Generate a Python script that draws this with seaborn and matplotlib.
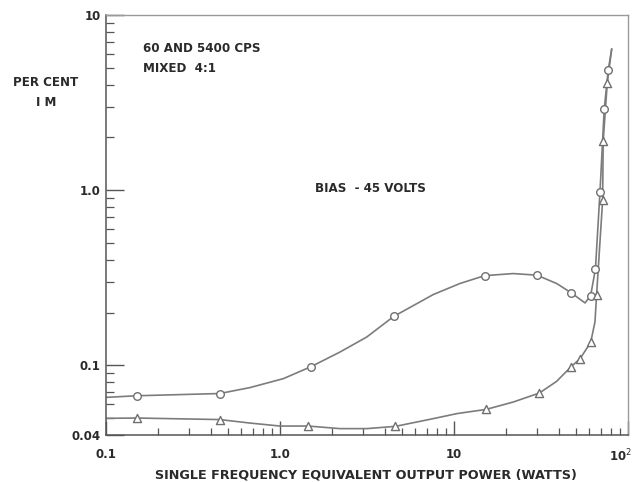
import matplotlib
matplotlib.use("Agg")
import matplotlib.pyplot as plt
import matplotlib.ticker as mticker
import matplotlib.transforms as mtransforms
import numpy as np
import pandas as pd
import seaborn as sns

# ---- data ----
# open-circle series (markers)
circ_x = [0.15, 0.45, 1.5, 4.5, 15, 30, 47, 61, 65, 69, 73, 77]
circ_y = [0.067, 0.069, 0.098, 0.19, 0.325, 0.327, 0.26, 0.25, 0.355, 0.97, 2.9, 4.85]
# extra points (no markers)
circ_trace_x = [0.1, 0.672, 1.045, 2.21, 3.15, 7.6, 10.8, 21.9, 38.9, 56.6, 80.6]
circ_trace_y = [0.0656, 0.0746, 0.0839, 0.119, 0.145, 0.2535, 0.293, 0.334, 0.293, 0.227, 6.4]

# triangle series (markers)
tri_x = [0.15, 0.45, 1.45, 4.6, 15.3, 31, 47, 53, 61, 66, 71.5, 72, 76]
tri_y = [0.050, 0.049, 0.045, 0.0448, 0.056, 0.0695, 0.098, 0.109, 0.135, 0.253, 0.88, 1.9, 4.1]
# extra points (no markers)
tri_trace_x = [0.1, 0.672, 1.0, 2.21, 3.15, 7.6, 10.4, 21.9, 38.9, 64.6, 80.6]
tri_trace_y = [0.0498, 0.0468, 0.045, 0.0435, 0.0435, 0.0496, 0.053, 0.0617, 0.081, 0.177, 6.4]

x_ticks = [0.1, 1, 10, 100]
x_tick_labels = ["0.1", "1.0", "10", "10$^2$"]
y_ticks = [0.04, 0.1, 1, 10]
y_tick_labels = ["0.04", "0.1", "1.0", "10"]

# ---- figure ----
sns.set_theme(style="white")
plt.rcParams["font.family"] = ["DejaVu Sans"]
W, H = 640, 482
fig = plt.figure(figsize=(W / 100, H / 100), dpi=100)
ax = fig.add_axes([106 / W, 1 - 435 / H, (628 - 106) / W, (435 - 15) / H])
ax.set_xscale("log")
ax.set_yscale("log")

def line_df(mx, my, tx, ty):
    pts = sorted(zip(list(mx) + list(tx), list(my) + list(ty)), key=lambda p: (p[0], p[1]))
    return pd.DataFrame({"x": [p[0] for p in pts], "y": [p[1] for p in pts]})

line_col = "#7c7c7c"
c_line = line_df(circ_x, circ_y, circ_trace_x, circ_trace_y)
t_line = line_df(tri_x, tri_y, tri_trace_x, tri_trace_y)
sns.lineplot(data=c_line, x="x", y="y", sort=False, estimator=None, ax=ax,
             color=line_col, linewidth=1.2)
sns.lineplot(data=t_line, x="x", y="y", sort=False, estimator=None, ax=ax,
             color=line_col, linewidth=1.2)

sns.scatterplot(x=circ_x, y=circ_y, ax=ax, marker="o", s=30,
                facecolor="white", edgecolor="#707070", linewidth=1.0, zorder=5)
sns.scatterplot(x=tri_x, y=tri_y, ax=ax, marker="^", s=34,
                facecolor="white", edgecolor="#707070", linewidth=1.0, zorder=5)

ax.set_xlim(0.1, 100)
ax.set_ylim(0.04, 10)
ax.set_xlabel("")
ax.set_ylabel("")

ax.xaxis.set_major_locator(mticker.FixedLocator(x_ticks))
ax.xaxis.set_major_formatter(mticker.FixedFormatter(x_tick_labels))
ax.yaxis.set_major_locator(mticker.FixedLocator(y_ticks))
ax.yaxis.set_major_formatter(mticker.FixedFormatter(y_tick_labels))
ax.xaxis.set_minor_locator(mticker.LogLocator(base=10, subs=np.arange(2, 10)))
ax.yaxis.set_minor_locator(mticker.LogLocator(base=10, subs=np.arange(2, 10)))
ax.xaxis.set_minor_formatter(mticker.NullFormatter())
ax.yaxis.set_minor_formatter(mticker.NullFormatter())

txt_col = "#2a2a2a"
ax.tick_params(axis="both", which="both", direction="in", colors="#555555",
               labelcolor=txt_col, bottom=True, left=True, top=False, right=False)
ax.tick_params(axis="x", which="major", length=10, width=1.0, pad=9, labelsize=8.5)
ax.tick_params(axis="x", which="minor", length=5, width=0.9)
ax.tick_params(axis="y", which="major", length=13, width=1.0, pad=4, labelsize=8.5)
ax.tick_params(axis="y", which="minor", length=6, width=0.9)
fig.canvas.draw()
for lab in ax.get_xticklabels() + ax.get_yticklabels():
    lab.set_fontweight("bold")
last = ax.get_xticklabels()[-1]
last.set_transform(last.get_transform() +
                   mtransforms.ScaledTranslation(-8 / 100, 0, fig.dpi_scale_trans))

for side in ["left", "bottom"]:
    ax.spines[side].set_color("#555555")
    ax.spines[side].set_linewidth(1.1)
for side in ["top", "right"]:
    ax.spines[side].set_color("#9a9a9a")
    ax.spines[side].set_linewidth(1.0)

fs = 8.6
fig.text(143 / W, 1 - 48 / H, "60 AND 5400 CPS", ha="left", va="center",
         color=txt_col, fontweight="bold", fontsize=fs)
fig.text(143 / W, 1 - 68 / H, "MIXED  4:1", ha="left", va="center",
         color=txt_col, fontweight="bold", fontsize=fs)
fig.text(46 / W, 1 - 82 / H, "PER CENT", ha="center", va="center",
         color=txt_col, fontweight="bold", fontsize=fs)
fig.text(46 / W, 1 - 103 / H, "I M", ha="center", va="center",
         color=txt_col, fontweight="bold", fontsize=fs)
fig.text(315 / W, 1 - 188 / H, "BIAS  - 45 VOLTS", ha="left", va="center",
         color=txt_col, fontweight="bold", fontsize=fs)
fig.text(366 / W, 1 - 475 / H, "SINGLE FREQUENCY EQUIVALENT OUTPUT POWER (WATTS)",
         ha="center", va="center", color=txt_col, fontweight="bold", fontsize=9.2)

fig.savefig("out.png", dpi=100, facecolor="white")
